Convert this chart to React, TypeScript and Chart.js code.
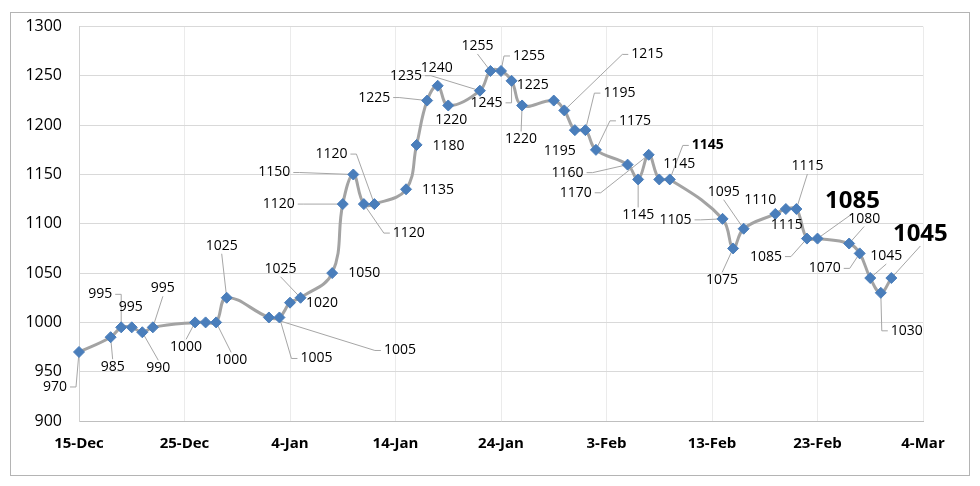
import React, { useEffect, useRef } from 'react';
import { Chart, registerables } from 'chart.js';

Chart.register(...registerables);

const START_DATE = '2019-12-15';

const dates = [
  '2019-12-15', '2019-12-18', '2019-12-19', '2019-12-20', '2019-12-21', '2019-12-22',
  '2019-12-26', '2019-12-27', '2019-12-28', '2019-12-29',
  '2020-01-02', '2020-01-03', '2020-01-04', '2020-01-05', '2020-01-08', '2020-01-09',
  '2020-01-10', '2020-01-11', '2020-01-12', '2020-01-15', '2020-01-16', '2020-01-17',
  '2020-01-18', '2020-01-19', '2020-01-22', '2020-01-23', '2020-01-24', '2020-01-25',
  '2020-01-26', '2020-01-29', '2020-01-30', '2020-01-31', '2020-02-01', '2020-02-02',
  '2020-02-05', '2020-02-06', '2020-02-07', '2020-02-08', '2020-02-09', '2020-02-14',
  '2020-02-15', '2020-02-16', '2020-02-19', '2020-02-20', '2020-02-21', '2020-02-22',
  '2020-02-23', '2020-02-26', '2020-02-27', '2020-02-28', '2020-02-29', '2020-03-01',
];

const prices = [
  970, 985, 995, 995, 990, 995, 1000, 1000, 1000, 1025,
  1005, 1005, 1020, 1025, 1050, 1120, 1150, 1120, 1120, 1135,
  1180, 1225, 1240, 1220, 1235, 1255, 1255, 1245, 1220, 1225,
  1215, 1195, 1195, 1175, 1160, 1145, 1170, 1145, 1145, 1105,
  1075, 1095, 1110, 1115, 1115, 1085, 1085, 1080, 1070, 1045,
  1030, 1045,
];

const xTickLabels = ['15-Dec', '25-Dec', '4-Jan', '14-Jan', '24-Jan', '3-Feb', '13-Feb', '23-Feb', '4-Mar'];
const xTickStepDays = 10;
const yMin = 900;
const yMax = 1300;
const yStep = 50;

// Label placement table: [dx, dy, leader, style] relative to each point (n normal, b bold, B big bold)
const labelLayout: (null | [number, number, boolean, string])[] = [
  [-24, 35, true, 'n'], [2, 30, true, 'n'], [-21, -33, true, 'n'], [-1, -20, false, 'n'],
  [16, 36, true, 'n'], [10, -39, true, 'n'], [-9, 25, true, 'n'], null,
  [15, 38, true, 'n'], [-5, -52, true, 'n'],
  [131, 33, true, 'n'], [37, 41, true, 'n'], [32, 0, false, 'n'], [-20, -29, true, 'n'],
  [32, 0, false, 'n'], [-64, 0, true, 'n'], [-79, -2, true, 'n'], [45, 29, true, 'n'],
  [-43, -50, true, 'n'], [32, 1, false, 'n'],
  [32, 1, false, 'n'], [-53, -3, true, 'n'], [-1, -18, false, 'n'], [3, 15, false, 'n'],
  [-74, -15, true, 'n'], [-13, -25, true, 'n'], [28, -15, true, 'n'], [-25, 22, true, 'n'],
  [-1, 34, true, 'n'], [-21, -16, false, 'n'],
  [83, -56, true, 'n'], [-15, 21, false, 'n'], [34, -37, true, 'n'], [39, -29, true, 'n'],
  [-60, 8, true, 'n'], [0, 36, true, 'n'], [-73, 38, true, 'n'], [20, -15, false, 'n'],
  [38, -34, true, 'b'], [-47, 1, true, 'n'],
  [-11, 32, true, 'n'], [-20, -37, true, 'n'], [-15, -14, false, 'n'], [1, 16, false, 'n'],
  [11, -43, true, 'n'], [-41, 18, true, 'n'], [35, -37, true, 'B'], [15, -25, true, 'n'],
  [-35, 15, true, 'n'], [16, -22, true, 'n'],
  [26, 38, true, 'n'], [29, -44, true, 'B'],
];

const FONT = "'Open Sans', 'Noto Sans', sans-serif";

const dayOf = (d: string) => Math.round((Date.parse(d) - Date.parse(START_DATE)) / 86400000);

const styleFont = (s: string) =>
  s === 'B' ? `bold 24px ${FONT}` : s === 'b' ? `bold 14px ${FONT}` : `14px ${FONT}`;
const styleHeight = (s: string) => (s === 'B' ? 22 : 14);

const framePlugin = {
  id: 'frame',
  beforeDraw(chart: any) {
    const { ctx, width, height } = chart;
    ctx.save();
    ctx.fillStyle = '#ffffff';
    ctx.fillRect(0, 0, width, height);
    ctx.strokeStyle = '#b4b4b4';
    ctx.lineWidth = 1;
    ctx.strokeRect(10.5, 12.5, 959, 463);
    ctx.restore();
  },
};

const labelPlugin = {
  id: 'pointLabels',
  beforeDatasetsDraw(chart: any) {
    const { ctx } = chart;
    const meta = chart.getDatasetMeta(0);
    ctx.save();
    ctx.strokeStyle = '#a6a6a6';
    ctx.lineWidth = 1;
    meta.data.forEach((pt: any, i: number) => {
      const lay = labelLayout[i];
      if (!lay || !lay[2]) return;
      const [dx, dy, , st] = lay;
      ctx.font = styleFont(st);
      const w = ctx.measureText(String(prices[i])).width;
      const h = styleHeight(st);
      const cx = pt.x + dx;
      const cy = pt.y + dy;
      const pts: [number, number][] = [];
      if (Math.abs(dy) > h / 2 + 4 && Math.abs(dx) < w / 2 + 8) {
        pts.push([cx, cy + Math.sign(dy) * -1 * (h / 2 + 1)]);
      } else {
        const sgn = Math.sign(-dx) || 1;
        const sx = cx + sgn * (w / 2 + 3);
        pts.push([sx, cy]);
        pts.push([sx + sgn * 6, cy]);
      }
      ctx.beginPath();
      ctx.moveTo(pts[0][0], pts[0][1]);
      for (let k = 1; k < pts.length; k++) ctx.lineTo(pts[k][0], pts[k][1]);
      ctx.lineTo(pt.x, pt.y);
      ctx.stroke();
    });
    ctx.restore();
  },
  afterDatasetsDraw(chart: any) {
    const { ctx } = chart;
    const meta = chart.getDatasetMeta(0);
    ctx.save();
    ctx.fillStyle = '#000000';
    ctx.textAlign = 'center';
    ctx.textBaseline = 'middle';
    meta.data.forEach((pt: any, i: number) => {
      const lay = labelLayout[i];
      if (!lay) return;
      const [dx, dy, , st] = lay;
      ctx.font = styleFont(st);
      ctx.fillText(String(prices[i]), pt.x + dx, pt.y + dy);
    });
    ctx.restore();
  },
};

export default function App() {
  const canvasRef = useRef<HTMLCanvasElement | null>(null);

  useEffect(() => {
    const canvas = canvasRef.current;
    if (!canvas) return;
    const data = dates.map((d, i) => ({ x: dayOf(d), y: prices[i] }));
    const lastDay = (xTickLabels.length - 1) * xTickStepDays;
    const chart = new Chart(canvas, {
      type: 'line',
      data: {
        datasets: [
          {
            data,
            borderColor: '#a3a3a3',
            borderWidth: 3,
            tension: 0.4,
            pointStyle: 'rectRot',
            pointRadius: 5.5,
            pointBackgroundColor: '#4a7ebb',
            pointBorderColor: '#4a7ebb',
            pointBorderWidth: 1,
            fill: false,
            clip: false,
          },
        ],
      },
      options: {
        animation: false,
        responsive: false,
        devicePixelRatio: 1,
        layout: { padding: { left: 0, top: 23, right: 57, bottom: 0 } },
        plugins: {
          legend: { display: false },
          tooltip: { enabled: false },
        },
        scales: {
          x: {
            type: 'linear',
            min: 0,
            max: lastDay,
            afterFit: (scale: any) => {
              scale.height = 65;
            },
            afterBuildTicks: (scale: any) => {
              scale.ticks = xTickLabels.map((_, i) => ({ value: i * xTickStepDays }));
            },
            ticks: {
              stepSize: xTickStepDays,
              autoSkip: false,
              maxRotation: 0,
              padding: 14,
              color: '#000000',
              font: { family: FONT, size: 15, weight: 'bold' },
              callback: (v: any) => xTickLabels[Math.round(Number(v) / xTickStepDays)] ?? '',
            },
            grid: { color: '#ebebeb', drawTicks: false, lineWidth: 1 },
            border: { color: '#bfbfbf', width: 1 },
          },
          y: {
            min: yMin,
            max: yMax,
            afterFit: (scale: any) => {
              scale.width = 79;
            },
            ticks: {
              stepSize: yStep,
              padding: 17,
              color: '#000000',
              font: { family: FONT, size: 16 },
              callback: (v: any) => String(v),
            },
            grid: { color: '#d9d9d9', drawTicks: false, lineWidth: 1 },
            border: { color: '#d0d0d0', width: 1 },
          },
        },
      },
      plugins: [framePlugin, labelPlugin],
    } as any);
    return () => chart.destroy();
  }, []);

  return (
    <div style={{ position: 'absolute', left: 0, top: 0, width: 980, height: 486, background: '#fff' }}>
      <canvas ref={canvasRef} width={980} height={486} style={{ display: 'block' }} />
    </div>
  );
}
